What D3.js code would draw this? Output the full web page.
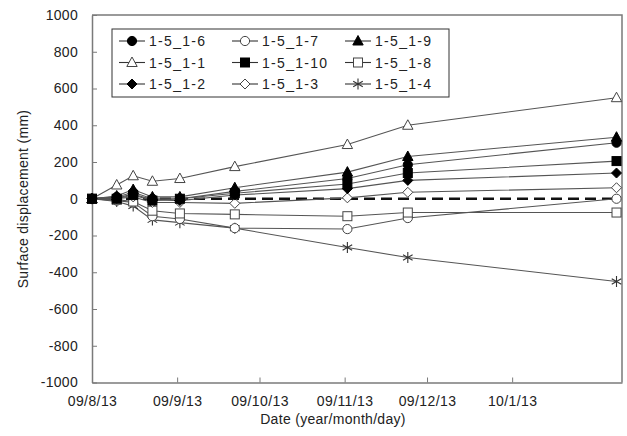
<!DOCTYPE html>
<html>
<head>
<meta charset="utf-8">
<script src="https://cdn.jsdelivr.net/npm/d3@7"></script>
<style>
  html, body { margin: 0; padding: 0; background: #fff; }
  svg { display: block; font-family: "Liberation Sans", Arial, sans-serif; }
</style>
</head>
<body>
<svg id="chart" width="627" height="436"></svg>
<script>
// Survey dates (year-month-day)
const dates = ["2009-08-13", "2009-08-22", "2009-08-28", "2009-09-04", "2009-09-14",
               "2009-10-04", "2009-11-14", "2009-12-06", "2010-02-20"];

// Surface displacement (mm) per measuring point
const s1_1  = [0,  75, 125,   95,  110,  175,  295,  400,  550];
const s1_9  = [0,  15,  50,   10,   10,   60,  145,  230,  335];
const s1_6  = [0,  10,  35,    0,    0,   40,  110,  185,  305];
const s1_10 = [0,   0,  20,  -10,    0,   30,   80,  140,  205];
const s1_2  = [0,   5,  25,   -5,  -10,   20,   55,  100,  140];
const s1_3  = [0,   0,  10,  -20,  -20,  -25,    5,   35,   60];
const s1_7  = [0, -10, -20,  -95, -110, -160, -165, -105,    0];
const s1_8  = [0,  -5, -15,  -65,  -80,  -85,  -95,  -75,  -75];
const s1_4  = [0, -15, -40, -115, -130, -160, -265, -320, -450];

// Legend order (row by row)
const legendNames = ["1-5_1-6", "1-5_1-7", "1-5_1-9",
                     "1-5_1-1", "1-5_1-10", "1-5_1-8",
                     "1-5_1-2", "1-5_1-3", "1-5_1-4"];

const yTicks = [-1000, -800, -600, -400, -200, 0, 200, 400, 600, 800, 1000];
const xTicks = ["2009-08-13", "2009-09-13", "2009-10-13", "2009-11-13", "2009-12-13", "2010-01-13"];
const xDomain = ["2009-08-13", "2010-02-22"];

const seriesValues = {
  "1-5_1-1": s1_1, "1-5_1-9": s1_9, "1-5_1-6": s1_6, "1-5_1-10": s1_10,
  "1-5_1-2": s1_2, "1-5_1-3": s1_3, "1-5_1-7": s1_7, "1-5_1-8": s1_8, "1-5_1-4": s1_4
};
// Drawing order of the series
const drawOrder = ["1-5_1-1", "1-5_1-4", "1-5_1-7", "1-5_1-8", "1-5_1-3",
                   "1-5_1-2", "1-5_1-10", "1-5_1-6", "1-5_1-9"];

// Marker style per series
const markerStyle = {
  "1-5_1-6":  { shape: "circle",   filled: true },
  "1-5_1-7":  { shape: "circle",   filled: false },
  "1-5_1-9":  { shape: "triangle", filled: true },
  "1-5_1-1":  { shape: "triangle", filled: false },
  "1-5_1-10": { shape: "square",   filled: true },
  "1-5_1-8":  { shape: "square",   filled: false },
  "1-5_1-2":  { shape: "diamond",  filled: true },
  "1-5_1-3":  { shape: "diamond",  filled: false },
  "1-5_1-4":  { shape: "star",     filled: false }
};

const parse = d3.timeParse("%Y-%m-%d");
const svg = d3.select("#chart");
const plotLeft = 92, plotRight = 622, plotTop = 15, plotBottom = 382.5;

const x = d3.scaleTime().domain(xDomain.map(parse)).range([plotLeft, plotRight]);
const y = d3.scaleLinear().domain([-1000, 1000]).range([plotBottom, plotTop]);

const textColor = "#222";
const frameColor = "#7a7a7a";

// Plot frame (top and right)
svg.append("path")
  .attr("d", `M${plotLeft},${plotTop}H${plotRight}V${plotBottom}`)
  .attr("fill", "none").attr("stroke", frameColor).attr("stroke-width", 1.5);

// Y axis with inward ticks
const yAxis = svg.append("g").attr("transform", `translate(${plotLeft},0)`)
  .call(d3.axisLeft(y).tickValues(yTicks).tickSizeInner(-5).tickSizeOuter(0)
        .tickPadding(14).tickFormat(d => String(d)));
yAxis.select(".domain").attr("stroke", frameColor).attr("stroke-width", 1.5);
yAxis.selectAll(".tick line").attr("stroke", frameColor);
yAxis.selectAll(".tick text").attr("fill", textColor).attr("font-size", 14)
  .attr("letter-spacing", 0.3)
  .attr("font-family", "Liberation Sans, Arial, sans-serif");

// X axis with inward ticks
const xAxis = svg.append("g").attr("transform", `translate(0,${plotBottom})`)
  .call(d3.axisBottom(x).tickValues(xTicks.map(parse)).tickSizeInner(-5).tickSizeOuter(0)
        .tickPadding(14).tickFormat(d3.timeFormat("%y/%-m/%d")));
xAxis.select(".domain").attr("stroke", frameColor).attr("stroke-width", 1.5);
xAxis.selectAll(".tick line").attr("stroke", frameColor);
xAxis.selectAll(".tick text").attr("fill", textColor).attr("font-size", 14)
  .attr("letter-spacing", 0.4)
  .attr("font-family", "Liberation Sans, Arial, sans-serif");

// Axis titles
svg.append("text").attr("x", 333).attr("y", 424).attr("text-anchor", "middle")
  .attr("font-size", 14).attr("letter-spacing", 0.3).attr("fill", textColor)
  .text("Date (year/month/day)");
svg.append("text").attr("transform", "translate(28,199) rotate(-90)")
  .attr("text-anchor", "middle").attr("font-size", 14).attr("letter-spacing", 0.3)
  .attr("fill", textColor).text("Surface displacement (mm)");

// Zero reference line
const parsedDates = dates.map(parse);
svg.append("line")
  .attr("x1", x(parsedDates[0])).attr("x2", x(parsedDates[parsedDates.length - 1]))
  .attr("y1", y(0)).attr("y2", y(0))
  .attr("stroke", "#111").attr("stroke-width", 2.5).attr("stroke-dasharray", "11,6");

// Series lines
const line = d3.line().x((d, i) => x(parsedDates[i])).y(d => y(d));
const plot = svg.append("g");
drawOrder.forEach(name => {
  plot.append("path").datum(seriesValues[name])
    .attr("d", line).attr("fill", "none")
    .attr("stroke", "#555").attr("stroke-width", 1.1);
});

// Marker drawing
function drawMarker(g, shape, filled, cx, cy) {
  const fill = filled ? "#000" : "#fff";
  const stroke = filled ? "#000" : "#444";
  if (shape === "circle") {
    g.append("circle").attr("cx", cx).attr("cy", cy).attr("r", 4.6)
      .attr("fill", fill).attr("stroke", stroke).attr("stroke-width", 1);
  } else if (shape === "triangle") {
    g.append("path").attr("d", `M${cx},${cy - 5.5}L${cx + 5.2},${cy + 4}L${cx - 5.2},${cy + 4}Z`)
      .attr("fill", fill).attr("stroke", stroke).attr("stroke-width", 1);
  } else if (shape === "square") {
    g.append("rect").attr("x", cx - 4.5).attr("y", cy - 4.5).attr("width", 9).attr("height", 9)
      .attr("fill", fill).attr("stroke", stroke).attr("stroke-width", 1);
  } else if (shape === "diamond") {
    g.append("path").attr("d", `M${cx},${cy - 5}L${cx + 5},${cy}L${cx},${cy + 5}L${cx - 5},${cy}Z`)
      .attr("fill", fill).attr("stroke", stroke).attr("stroke-width", 1);
  } else if (shape === "star") {
    const r = 5.5;
    g.append("path")
      .attr("d", `M${cx},${cy - r}V${cy + r}M${cx - r * 0.87},${cy - r * 0.5}L${cx + r * 0.87},${cy + r * 0.5}` +
                 `M${cx - r * 0.87},${cy + r * 0.5}L${cx + r * 0.87},${cy - r * 0.5}`)
      .attr("fill", "none").attr("stroke", "#333").attr("stroke-width", 1.1);
  }
}

drawOrder.forEach(name => {
  const st = markerStyle[name];
  const g = plot.append("g");
  seriesValues[name].forEach((v, i) => drawMarker(g, st.shape, st.filled, x(parsedDates[i]), y(v)));
});

// Legend
const legend = svg.append("g");
legend.append("rect").attr("x", 112).attr("y", 29).attr("width", 337).attr("height", 68)
  .attr("fill", "#fff").attr("stroke", "#333").attr("stroke-width", 1);
const colX = [119, 232, 345];
const rowY = [41, 62.5, 84];
legendNames.forEach((name, i) => {
  const cx = colX[i % 3], cy = rowY[Math.floor(i / 3)];
  const g = legend.append("g");
  g.append("line").attr("x1", cx).attr("x2", cx + 26).attr("y1", cy).attr("y2", cy)
    .attr("stroke", "#333").attr("stroke-width", 1.1);
  drawMarker(g, markerStyle[name].shape, markerStyle[name].filled, cx + 13, cy);
  g.append("text").attr("x", cx + 30).attr("y", cy + 5)
    .attr("font-size", 14).attr("letter-spacing", 1.3).attr("fill", textColor).text(name);
});
</script>
</body>
</html>
